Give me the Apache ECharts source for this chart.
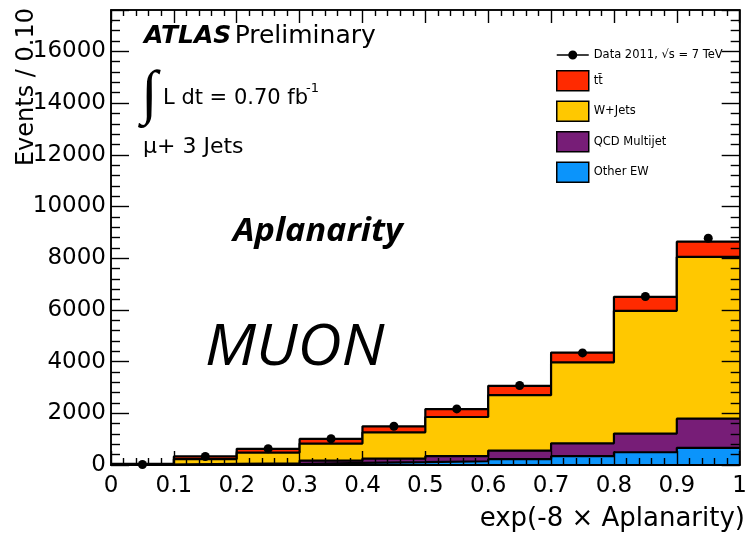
<!DOCTYPE html>
<html>
<head>
<meta charset="utf-8">
<script src="https://cdn.jsdelivr.net/npm/echarts@6/dist/echarts.min.js"></script>
<style>
  html, body { margin: 0; padding: 0; background: #fff; }
  #chart { width: 750px; height: 536px; }
</style>
</head>
<body>
<div id="chart"></div>
<script>
// Bin edges of exp(-8 x Aplanarity) and the bin centres where data points sit
const binEdges = [0, 0.1, 0.2, 0.3, 0.4, 0.5, 0.6, 0.7, 0.8, 0.9, 1.0];
const binCenters = [0.05, 0.15, 0.25, 0.35, 0.45, 0.55, 0.65, 0.75, 0.85, 0.95];

// Expected events per bin for each process (stacked bottom to top)
const otherEW = [10, 20, 30, 80, 108, 146, 230, 340, 494, 663];
const qcdMultijet = [5, 25, 30, 90, 142, 194, 329, 500, 720, 1129];
const wJets = [15, 185, 420, 660, 1015, 1517, 2141, 3130, 4751, 6255];
const ttbar = [10, 100, 145, 180, 230, 308, 364, 377, 540, 593];

// Observed events per bin
const data2011 = [20, 330, 630, 1015, 1500, 2170, 3075, 4335, 6520, 8770];

// Axis ranges and tick spacing
const xTicks = { min: 0, max: 1, interval: 0.1 };
const yTicks = { min: 0, max: 17600, interval: 2000 };

const DATA_NAME = 'Data 2011, \u221As = 7 TeV';
const TT_NAME = 'tt\u0304';
const W_NAME = 'W+Jets';
const QCD_NAME = 'QCD Multijet';
const EW_NAME = 'Other EW';

const COLORS = {
  tt: '#ff2a00',
  w: '#ffc800',
  qcd: '#771d77',
  ew: '#0b94fb'
};

const FONT = 'DejaVu Sans';

// Running sums: each histogram is drawn filled from zero up to its cumulative
// height, the largest first, so the smaller ones paint over it (THStack style)
function addArrays(a, b) { return a.map((v, i) => v + b[i]); }
const cumEW = otherEW.slice();
const cumQCD = addArrays(cumEW, qcdMultijet);
const cumW = addArrays(cumQCD, wJets);
const cumTT = addArrays(cumW, ttbar);

// Step-histogram points: each bin value is held from its left edge to the next edge
function stepPoints(vals) {
  return binEdges.map((x, i) => [x, vals[Math.min(i, vals.length - 1)]]);
}

function histSeries(name, cumVals, color, z) {
  return {
    type: 'line',
    name: name,
    step: 'end',
    data: stepPoints(cumVals),
    symbol: 'none',
    showSymbol: false,
    silent: true,
    z: z,
    itemStyle: { color: color },
    lineStyle: { color: '#000', width: 2.2 },
    areaStyle: { color: color, opacity: 1, origin: 'start' }
  };
}

const tickStyle = { color: '#000', width: 1.4 };

function xAxisDef(position, showLabel, majorLen, minorLen) {
  return {
    type: 'value',
    position: position,
    min: xTicks.min, max: xTicks.max, interval: xTicks.interval,
    z: 10,
    axisLine: { show: true, onZero: false, lineStyle: { color: '#000', width: position === 'bottom' ? 2 : 1.5 } },
    axisTick: { show: true, inside: true, length: majorLen, lineStyle: tickStyle },
    minorTick: { show: true, splitNumber: 5, length: minorLen, lineStyle: tickStyle },
    splitLine: { show: false },
    minorSplitLine: { show: false },
    axisLabel: {
      show: showLabel,
      margin: 10,
      color: '#000',
      fontFamily: FONT,
      fontSize: 23,
      showMinLabel: true,
      showMaxLabel: true
    }
  };
}

function yAxisDef(position, showLabel) {
  return {
    type: 'value',
    position: position,
    min: yTicks.min, max: yTicks.max, interval: yTicks.interval,
    z: 10,
    axisLine: { show: true, onZero: false, lineStyle: { color: '#000', width: 1.5 } },
    axisTick: { show: true, inside: true, length: 18, lineStyle: tickStyle },
    minorTick: { show: true, splitNumber: 5, length: 9, lineStyle: tickStyle },
    splitLine: { show: false },
    minorSplitLine: { show: false },
    axisLabel: {
      show: showLabel,
      margin: 5,
      color: '#000',
      fontFamily: FONT,
      fontSize: 23,
      showMaxLabel: false,
      formatter: v => (v % yTicks.interval === 0 ? String(v) : '')
    }
  };
}

const chart = echarts.init(document.getElementById('chart'), null, { renderer: 'canvas' });

chart.setOption({
  animation: false,
  backgroundColor: '#fff',
  grid: {
    left: 111, right: 5, top: 10, bottom: 71,
    show: true, borderColor: '#000', borderWidth: 1.5, backgroundColor: '#fff'
  },
  xAxis: [
    xAxisDef('bottom', true, 14, 7),
    xAxisDef('top', false, 13, 6)
  ],
  yAxis: [
    yAxisDef('left', true),
    yAxisDef('right', false)
  ],
  legend: {
    orient: 'vertical',
    left: 551,
    top: 44,
    itemWidth: 32,
    itemHeight: 20,
    itemGap: 9,
    selectedMode: false,
    textStyle: { color: '#000', fontFamily: FONT, fontSize: 11.5 },
    data: [
      {
        name: DATA_NAME,
        icon: 'path://M0,9.2H32V10.8H0Z M20.5,10A4.5,4.5,0,1,1,11.5,10A4.5,4.5,0,1,1,20.5,10Z',
        itemStyle: { color: '#000', opacity: 1 }
      },
      { name: TT_NAME, icon: 'rect', itemStyle: { color: COLORS.tt, borderColor: '#000', borderWidth: 1.5 } },
      { name: W_NAME, icon: 'rect', itemStyle: { color: COLORS.w, borderColor: '#000', borderWidth: 1.5 } },
      { name: QCD_NAME, icon: 'rect', itemStyle: { color: COLORS.qcd, borderColor: '#000', borderWidth: 1.5 } },
      { name: EW_NAME, icon: 'rect', itemStyle: { color: COLORS.ew, borderColor: '#000', borderWidth: 1.5 } }
    ]
  },
  series: [
    histSeries(TT_NAME, cumTT, COLORS.tt, 2),
    histSeries(W_NAME, cumW, COLORS.w, 3),
    histSeries(QCD_NAME, cumQCD, COLORS.qcd, 4),
    histSeries(EW_NAME, cumEW, COLORS.ew, 5),
    {
      type: 'scatter',
      name: DATA_NAME,
      data: binCenters.map((x, i) => [x, data2011[i]]),
      symbol: 'circle',
      symbolSize: 9,
      itemStyle: { color: '#000', opacity: 1 },
      silent: true,
      z: 20
    }
  ],
  graphic: [
    {
      type: 'text', x: 144, y: 36, z: 30,
      style: {
        text: '{a|ATLAS} {b|Preliminary}',
        verticalAlign: 'middle',
        fill: '#000',
        rich: {
          a: { fontFamily: FONT, fontSize: 25, fontWeight: 'bold', fontStyle: 'italic', fill: '#000' },
          b: { fontFamily: FONT, fontSize: 25, fill: '#000' }
        }
      }
    },
    {
      type: 'text', x: 141, y: 96, z: 30,
      style: { text: '\u222B', font: '60px "Liberation Serif"', fill: '#000', verticalAlign: 'middle' }
    },
    {
      type: 'text', x: 163, y: 99, z: 30,
      style: { text: 'L dt = 0.70 fb', font: '21px "DejaVu Sans"', fill: '#000', verticalAlign: 'middle' }
    },
    {
      type: 'text', x: 306, y: 89, z: 30,
      style: { text: '-1', font: '13px "DejaVu Sans"', fill: '#000', verticalAlign: 'middle' }
    },
    {
      type: 'text', x: 143, y: 147, z: 30,
      style: { text: '\u03BC+ 3 Jets', font: '22px "DejaVu Sans"', fill: '#000', verticalAlign: 'middle' }
    },
    {
      type: 'text', x: 233, y: 232, scaleX: 1.07, z: 30,
      style: { text: 'Aplanarity', font: 'italic bold 32px "Open Sans"', fill: '#000', verticalAlign: 'middle' }
    },
    {
      type: 'text', x: 205, y: 349, scaleX: 1.09, z: 30,
      style: { text: 'MUON', font: 'italic 56px "Open Sans"', fill: '#000', verticalAlign: 'middle' }
    },
    {
      type: 'text', x: 27, y: 8, rotation: Math.PI / 2, z: 30,
      style: { text: 'Events / 0.10', font: '24px "DejaVu Sans"', fill: '#000', align: 'right', verticalAlign: 'middle' }
    },
    {
      type: 'text', x: 745, y: 519, z: 30,
      style: { text: 'exp(-8 \u00D7 Aplanarity)', font: '26px "DejaVu Sans"', fill: '#000', align: 'right', verticalAlign: 'middle' }
    }
  ]
});
</script>
</body>
</html>
